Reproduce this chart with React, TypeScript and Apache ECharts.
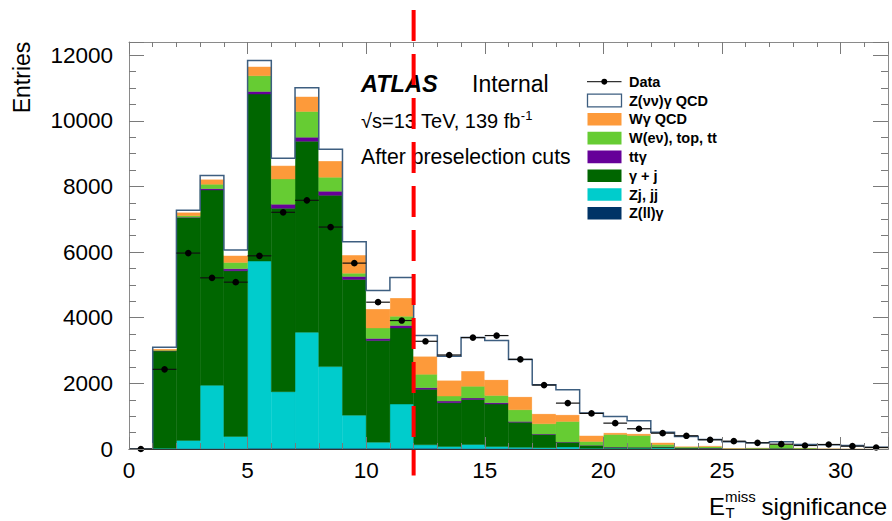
import { useEffect, useRef } from "react";
import * as echarts from "echarts";

// Histogram binning: 32 bins of width 1 in E_T^miss significance
const BIN_LOW = [0, 1, 2, 3, 4, 5, 6, 7, 8, 9, 10, 11, 12, 13, 14, 15, 16, 17, 18, 19, 20, 21, 22, 23, 24, 25, 26, 27, 28, 29, 30, 31];
const BIN_WIDTH = 1;

// Background / signal contributions per bin (stacked bottom to top)
const Z_LL_GAMMA = [0, 5, 15, 15, 15, 20, 20, 20, 20, 20, 20, 20, 20, 15, 15, 15, 15, 10, 10, 10, 5, 5, 5, 5, 5, 3, 3, 3, 2, 2, 2, 1];
const ZJ_JJ = [0, 15, 245, 1924, 367, 5704, 1726, 3537, 2490, 1012, 188, 1348, 108, 61, 122, 61, 35, 30, 50, 10, 15, 15, 25, 5, 5, 2, 2, 2, 2, 1, 1, 1];
const GAMMA_JET = [0, 2966, 6786, 5953, 5046, 5089, 5587, 5822, 5220, 4134, 3095, 2320, 1689, 1334, 1374, 1292, 768, 403, 148, 87, 35, 30, 30, 20, 15, 10, 10, 15, 5, 3, 2, 2];
const TT_GAMMA = [0, 9, 14, 40, 62, 80, 122, 122, 122, 91, 61, 73, 51, 49, 40, 42, 17, 12, 7, 5, 5, 5, 5, 5, 3, 3, 2, 2, 2, 8, 2, 1];
const W_ENU_TOP = [0, 15, 48, 134, 195, 479, 773, 781, 428, 101, 324, 284, 406, 153, 357, 223, 362, 314, 625, 117, 383, 357, 72, 25, 42, 7, 13, 115, 19, 5, 3, 2];
const W_GAMMA_QCD = [0, 40, 103, 152, 213, 284, 406, 458, 497, 549, 580, 559, 550, 479, 467, 480, 397, 306, 204, 183, 51, 52, 61, 26, 28, 5, 10, 8, 10, 3, 2, 3];
const Z_NUNU_GAMMA = [0, 49, 61, 111, 162, 184, 226, 266, 358, 407, 562, 623, 632, 733, 1020, 1190, 1129, 885, 763, 681, 498, 397, 315, 296, 192, 190, 149, 75, 97, 106, 95, 45];

// Observed events per bin
const DATA = [0, 2427, 5969, 5215, 5083, 5886, 7211, 7577, 6762, 5663, 4473, 3914, 3282, 2864, 3395, 3456, 2732, 1948, 1398, 1084, 788, 617, 482, 403, 281, 238, 189, 147, 107, 137, 86, 46];

const X_MIN = 0;
const X_MAX = 32;
const Y_MAX = 12400;
const CUT_VALUE = 12;

const FONT = '"Liberation Sans", Arial, Helvetica, sans-serif';
const OUTLINE = "#3d5e80";

const STACK = [
  { name: "Z(ll)γ", color: "#003366", values: Z_LL_GAMMA },
  { name: "Zj, jj", color: "#00cccc", values: ZJ_JJ },
  { name: "γ + j", color: "#006600", values: GAMMA_JET },
  { name: "ttγ", color: "#660099", values: TT_GAMMA },
  { name: "W(eν), top, tt", color: "#66cc33", values: W_ENU_TOP },
  { name: "Wγ QCD", color: "#fd9a3a", values: W_GAMMA_QCD },
  { name: "Z(νν)γ QCD", color: "#ffffff", values: Z_NUNU_GAMMA },
];

function buildOption() {
  const base = BIN_LOW.map(() => 0);
  const stackSeries = STACK.map((s, k) => {
    const rows = BIN_LOW.map((lo, i) => {
      const y0 = base[i];
      const y1 = y0 + s.values[i];
      base[i] = y1;
      return [lo, lo + BIN_WIDTH, y0, y1];
    });
    return {
      type: "custom",
      name: s.name,
      xAxisIndex: 0,
      yAxisIndex: 0,
      data: rows,
      encode: { x: [0, 1], y: [2, 3] },
      clip: true,
      z: 2 + k * 0.01,
      renderItem: (_p: any, api: any) => {
        const y0 = api.value(2);
        const y1 = api.value(3);
        if (!(y1 > y0)) return null;
        const a = api.coord([api.value(0), y0]);
        const b = api.coord([api.value(1), y1]);
        return {
          type: "rect",
          shape: { x: a[0], y: b[1], width: b[0] - a[0], height: a[1] - b[1] },
          style: { fill: s.color, stroke: s.color, lineWidth: 0.4 },
        };
      },
    };
  });
  const totals = base.slice();

  // Step outline along the top of the full stack
  const outlineSeries = {
    type: "custom",
    name: "outline",
    xAxisIndex: 0,
    yAxisIndex: 0,
    data: [[X_MIN, 0]],
    clip: true,
    z: 3,
    renderItem: (_p: any, api: any) => {
      const pts: number[][] = [];
      BIN_LOW.forEach((lo, i) => {
        pts.push(api.coord([lo, totals[i]]));
        pts.push(api.coord([lo + BIN_WIDTH, totals[i]]));
      });
      return {
        type: "polyline",
        shape: { points: pts },
        style: { stroke: OUTLINE, lineWidth: 1.5, fill: null },
      };
    },
  };

  // Data points with bin-width horizontal bars and Poisson vertical bars
  const dataSeries = {
    type: "custom",
    name: "Data",
    xAxisIndex: 0,
    yAxisIndex: 0,
    data: BIN_LOW.map((lo, i) => [lo + BIN_WIDTH / 2, DATA[i], Math.sqrt(DATA[i])]),
    clip: false,
    z: 4,
    renderItem: (_p: any, api: any) => {
      const xc = api.value(0);
      const v = api.value(1);
      const e = api.value(2);
      const c = api.coord([xc, v]);
      const l = api.coord([xc - BIN_WIDTH / 2, v]);
      const r = api.coord([xc + BIN_WIDTH / 2, v]);
      const lo = api.coord([xc, v - e]);
      const hi = api.coord([xc, v + e]);
      return {
        type: "group",
        children: [
          { type: "line", shape: { x1: l[0], y1: l[1], x2: r[0], y2: r[1] }, style: { stroke: "#111", lineWidth: 1.2 } },
          { type: "line", shape: { x1: lo[0], y1: lo[1], x2: hi[0], y2: hi[1] }, style: { stroke: "#111", lineWidth: 1.2 } },
          { type: "circle", shape: { cx: c[0], cy: c[1], r: 3.3 }, style: { fill: "#000" } },
        ],
      };
    },
  };

  // Dashed vertical cut line, extending past the frame
  const cutSeries = {
    type: "custom",
    name: "cut",
    xAxisIndex: 0,
    yAxisIndex: 0,
    data: [[CUT_VALUE, 0]],
    clip: false,
    z: 6,
    renderItem: (_p: any, api: any) => {
      const top = api.coord([api.value(0), Y_MAX]);
      const bot = api.coord([api.value(0), 0]);
      return {
        type: "line",
        shape: { x1: top[0], y1: top[1] - 32, x2: bot[0], y2: bot[1] + 26.5 },
        style: { stroke: "#ff0000", lineWidth: 4, lineDash: [31, 13] },
      };
    },
  };

  const tick = (len: number) => ({ show: true, inside: true, length: len, lineStyle: { color: "#7a7a7a", width: 1 } });
  const greyLine = { show: true, onZero: false, lineStyle: { color: "#8a8a8a", width: 1 } };
  const noLine = { show: false, onZero: false };
  const noSplit = { show: false };
  const noLabel = { show: false };
  const gridRect = { left: 129, right: 4, top: 42, bottom: 72 };

  const xBase = { type: "value", min: X_MIN, max: X_MAX, splitLine: noSplit, z: 10 };
  const yBase = { type: "value", min: 0, max: Y_MAX, splitLine: noSplit, z: 10 };

  // Legend rows: Data first, then the stack from top to bottom
  const legendRows = [{ name: "Data", color: "#000", kind: "data" }].concat(
    STACK.slice().reverse().map((s) => ({ name: s.name, color: s.color, kind: "box" }))
  );
  const legendGraphics: any[] = [];
  legendRows.forEach((row, i) => {
    const cy = 81.7 + i * 18.8;
    if (row.kind === "data") {
      legendGraphics.push({ type: "line", shape: { x1: 587, y1: cy, x2: 621.5, y2: cy }, style: { stroke: "#333", lineWidth: 1.3 } });
      legendGraphics.push({ type: "circle", shape: { cx: 604.3, cy, r: 3 }, style: { fill: "#000" } });
    } else {
      legendGraphics.push({
        type: "rect",
        shape: { x: 587.5, y: cy - 6.3, width: 34, height: 12.6 },
        style: row.color === "#ffffff" ? { fill: "#fff", stroke: OUTLINE, lineWidth: 1.3 } : { fill: row.color },
      });
    }
    legendGraphics.push({
      type: "text",
      x: 629,
      y: cy,
      style: { text: row.name, fontFamily: FONT, fontWeight: "bold", fontSize: 14.5, fill: "#000", verticalAlign: "middle" },
    });
  });

  return {
    animation: false,
    backgroundColor: "#ffffff",
    grid: [gridRect, gridRect, gridRect, gridRect].map((g) => ({ ...g })),
    xAxis: [
      {
        ...xBase,
        gridIndex: 0,
        position: "bottom",
        interval: 5,
        axisLine: { show: true, onZero: false, lineStyle: { color: "#333", width: 1 } },
        axisTick: tick(12),
        axisLabel: {
          fontSize: 22.5,
          color: "#000",
          fontFamily: FONT,
          margin: 10,
          formatter: (v: number) => (v % 5 === 0 ? String(v) : ""),
        },
      },
      { ...xBase, gridIndex: 1, position: "bottom", interval: 1, axisLine: noLine, axisTick: tick(6), axisLabel: noLabel },
      { ...xBase, gridIndex: 2, position: "top", interval: 5, axisLine: greyLine, axisTick: tick(12), axisLabel: noLabel },
      { ...xBase, gridIndex: 3, position: "top", interval: 1, axisLine: noLine, axisTick: tick(5), axisLabel: noLabel },
    ],
    yAxis: [
      {
        ...yBase,
        gridIndex: 0,
        position: "left",
        interval: 2000,
        axisLine: greyLine,
        axisTick: tick(15),
        axisLabel: {
          fontSize: 22.5,
          color: "#000",
          fontFamily: FONT,
          margin: 16,
          formatter: (v: number) => (v % 2000 === 0 ? String(v) : ""),
        },
      },
      { ...yBase, gridIndex: 1, position: "left", interval: 500, axisLine: noLine, axisTick: tick(7), axisLabel: noLabel },
      { ...yBase, gridIndex: 2, position: "right", interval: 2000, axisLine: greyLine, axisTick: tick(15), axisLabel: noLabel },
      { ...yBase, gridIndex: 3, position: "right", interval: 500, axisLine: noLine, axisTick: tick(7), axisLabel: noLabel },
    ],
    series: [...stackSeries, outlineSeries, dataSeries, cutSeries],
    graphic: [
      {
        type: "text",
        x: 22,
        y: 77.5,
        rotation: Math.PI / 2,
        style: { text: "Entries", fontFamily: FONT, fontSize: 23, fill: "#000", align: "center", verticalAlign: "middle" },
      },
      {
        type: "text",
        x: 361,
        y: 84,
        z: 1,
        style: { text: "ATLAS", fontFamily: FONT, fontSize: 23.5, fontStyle: "italic", fontWeight: "bold", fill: "#000", verticalAlign: "middle" },
      },
      {
        type: "text",
        x: 472,
        y: 84,
        z: 1,
        style: { text: "Internal", fontFamily: FONT, fontSize: 23, fill: "#000", verticalAlign: "middle" },
      },
      {
        type: "text",
        x: 361,
        y: 121,
        z: 1,
        style: {
          text: "{m|√s=13 TeV, 139 fb}{s|-1}",
          fontFamily: FONT,
          fill: "#000",
          verticalAlign: "middle",
          rich: {
            m: { fontFamily: FONT, fontSize: 20, fill: "#000", lineHeight: 24 },
            s: { fontFamily: FONT, fontSize: 13, fill: "#000", verticalAlign: "top", lineHeight: 13 },
          },
        },
      },
      {
        type: "text",
        x: 361,
        y: 156,
        z: 1,
        style: { text: "After preselection cuts", fontFamily: FONT, fontSize: 21.2, fill: "#000", verticalAlign: "middle" },
      },
      {
        type: "text",
        x: 709,
        y: 506.7,
        style: { text: "E", fontFamily: FONT, fontSize: 24, fill: "#000", verticalAlign: "middle" },
      },
      {
        type: "text",
        x: 725,
        y: 496.5,
        style: { text: "miss", fontFamily: FONT, fontSize: 15, fill: "#000", verticalAlign: "middle" },
      },
      {
        type: "text",
        x: 725.5,
        y: 512.5,
        style: { text: "T", fontFamily: FONT, fontSize: 15, fill: "#000", verticalAlign: "middle" },
      },
      {
        type: "text",
        x: 887,
        y: 506.7,
        style: { text: "significance", fontFamily: FONT, fontSize: 24, fill: "#000", align: "right", verticalAlign: "middle" },
      },
      ...legendGraphics,
    ],
  };
}

export default function App() {
  const ref = useRef<HTMLDivElement>(null);
  useEffect(() => {
    if (!ref.current) return;
    const chart = echarts.init(ref.current, undefined, { renderer: "svg" });
    chart.setOption(buildOption() as any);
    return () => chart.dispose();
  }, []);
  return (
    <div
      ref={ref}
      style={{ position: "absolute", left: 0, top: 0, width: 892, height: 521, background: "#fff" }}
    />
  );
}
